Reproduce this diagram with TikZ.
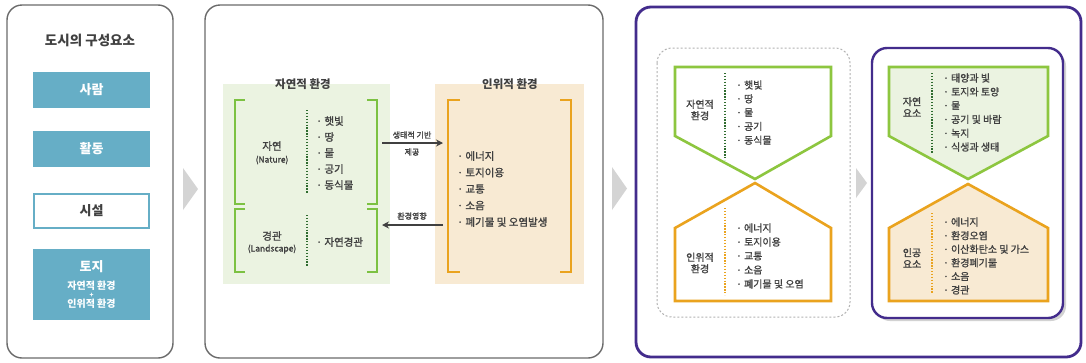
\documentclass[tikz,border=0pt]{standalone}
\usepackage{fontspec}
\setmainfont{Noto Sans CJK KR}
\newfontfamily\medf{Noto Sans CJK KR}[FakeBold=1.2]
\usetikzlibrary{arrows.meta}
\definecolor{teal1}{HTML}{66AEC6}
\definecolor{brgreen}{HTML}{7CC142}
\definecolor{pgreen}{HTML}{8DC63F}
\definecolor{dgreen}{HTML}{2E6B2E}
\definecolor{orng}{HTML}{EAA31E}
\definecolor{greenbg}{HTML}{EBF3E1}
\definecolor{beige}{HTML}{F8EAD3}
\definecolor{purp}{HTML}{432C8C}
\definecolor{txt}{HTML}{404040}
\definecolor{frame}{HTML}{6A6A6A}
\definecolor{tri}{HTML}{D4D4D4}
\tikzset{
  panel/.style={draw=frame, line width=1.4pt, rounded corners=15pt},
  tealbox/.style={fill=teal1, minimum width=117pt, minimum height=36pt, inner sep=0pt, text=white, font=\bfseries\fontsize{13}{15}\selectfont},
  bigitem/.style={anchor=west, inner sep=0pt, text=txt, font=\medf\fontsize{10.5}{12}\selectfont},
  smitem/.style={anchor=west, inner sep=0pt, text=txt, font=\medf\fontsize{10}{11}\selectfont},
  lbl/.style={inner sep=0pt, text=txt, align=center, font=\medf\fontsize{10.5}{12}\selectfont},
  slbl/.style={inner sep=0pt, text=txt, align=center, font=\medf\fontsize{10}{11.5}\selectfont},
  title/.style={inner sep=0pt, text=txt, font=\bfseries\fontsize{11.5}{13}\selectfont},
  gbr/.style={draw=brgreen, line width=2.8pt},
  obr/.style={draw=orng, line width=2.8pt},
  gdot/.style={draw=dgreen, line width=1.3pt, dash pattern=on 1.3pt off 1.6pt},
  odot/.style={draw=orng, line width=1.3pt, dash pattern=on 1.3pt off 1.6pt},
  arr/.style={draw=txt, line width=1.4pt, -{Stealth[length=7pt,width=7pt]}},
  alab/.style={inner sep=0pt, text=txt, align=center, font=\medf\fontsize{8}{10}\selectfont},
  grtri/.style={fill=tri, draw=none},
}
\begin{document}
\begin{tikzpicture}[x=1pt,y=-1pt]
\useasboundingbox[fill=white] (0,0) rectangle (1086,362);

% ---------- Panel 1 ----------
\draw[panel, fill=white] (7,5) rectangle (173,358);
\node[inner sep=0pt, text=txt, font=\bfseries\fontsize{13.5}{15}\selectfont] (t1) at (90,40) {도시의 구성요소};
\node[tealbox] (saram) at (91.5,90) {사람};
\node[tealbox] (hwal) at (91.5,149) {활동};
\node[tealbox, fill=white, draw=teal1, line width=2pt, text=txt, minimum width=115pt, minimum height=34pt] (siseol) at (91.5,211) {시설};
\node[tealbox, minimum height=71pt] (toji) at (91.5,284.5) {};
\node[inner sep=0pt, text=white, font=\bfseries\fontsize{13}{15}\selectfont] (tojit) at (91.5,267) {토지};
\node[inner sep=0pt, text=white, font=\bfseries\fontsize{10}{11}\selectfont] (tojis1) at (91.5,286) {자연적 환경};
\node[inner sep=0pt, text=white, font=\bfseries\fontsize{6.5}{7}\selectfont] (tojip) at (91.5,295) {+};
\node[inner sep=0pt, text=white, font=\bfseries\fontsize{10}{11}\selectfont] (tojis2) at (91.5,304) {인위적 환경};

% triangle 1
\path[grtri] (183,168) -- (198,189) -- (183,210) -- cycle;

% ---------- Panel 2 ----------
\draw[panel, fill=white] (205,5) rectangle (603,358);
\node[fill=greenbg, minimum width=167pt, minimum height=200pt, inner sep=0pt, anchor=north west] (natbg) at (223,84) {};
\node[fill=beige, minimum width=149pt, minimum height=200pt, inner sep=0pt, anchor=north west] (artbg) at (435,84) {};
\node[title] (natt) at (303,84) {자연적 환경};
\node[title] (artt) at (510,84) {인위적 환경};

\draw[gbr] (245,100) -| (235,204) -- (245,204);
\draw[gbr] (367,100) -| (377,204) -- (367,204);
\draw[gbr] (245,209) -| (235,272) -- (245,272);
\draw[gbr] (367,209) -| (377,272) -- (367,272);
\draw[gdot] (307,110) -- (307,193);
\draw[gdot] (307,215) -- (307,266);

\node[lbl] (jayeon) at (272,146) {자연};
\node[slbl, font=\medf\fontsize{8.5}{10}\selectfont] (nature) at (272,160) {(Nature)};
\node[lbl] (gyeong) at (272,236) {경관};
\node[slbl, font=\medf\fontsize{8.5}{10}\selectfont] (landsc) at (272,249) {(Landscape)};

\foreach \t [count=\i] in {햇빛,땅,물,공기,동식물}
  \node[bigitem] (na\i) at (316,{121+16*(\i-1)}) {·\ \t};
\node[bigitem] (nl1) at (316,242) {·\ 자연경관};

\draw[obr] (460,100) -| (448,272) -- (460,272);
\draw[obr] (560,100) -| (571,272) -- (560,272);
\foreach \t [count=\i] in {에너지,토지이용,교통,소음,폐기물 및 오염발생}
  \node[bigitem] (ar\i) at (457,{156+16.5*(\i-1)}) {·\ \t};

\coordinate (a1s) at (382,143);
\coordinate (a1e) at (443,143);
\coordinate (a2s) at (443,225);
\coordinate (a2e) at (382,225);
\draw[arr] (a1s) -- (a1e);
\draw[arr] (a2s) -- (a2e);
\node[alab] (l1) at (412,135) {생태적 기반};
\node[alab] (l2) at (412,152) {제공};
\node[alab] (l3) at (412,216) {환경영향};

% triangle 2
\path[grtri] (612,167) -- (627,188.5) -- (612,210) -- cycle;

% ---------- Panel 3 ----------
\draw[draw=purp, line width=2.8pt, rounded corners=15pt, fill=white] (636,7) rectangle (1081,357);
\draw[draw=gray!60, line width=1pt, dash pattern=on 2pt off 2pt, rounded corners=15pt] (657,48) rectangle (850,317);

\draw[draw=pgreen, line width=2.6pt, fill=white, line join=miter] (675,67) -- (831,67) -- (831,136) -- (755,179) -- (675,136) -- cycle;
\draw[draw=orng, line width=2.6pt, fill=white, line join=miter] (755,183) -- (831,228) -- (831,301) -- (675,301) -- (675,228) -- cycle;
\node[slbl] (n3a) at (700,110) {자연적\\환경};
\node[slbl] (n3b) at (700,263) {인위적\\환경};
\draw[gdot] (725,73) -- (725,160);
\draw[odot] (725,208) -- (725,295);
\foreach \t [count=\i] in {햇빛,땅,물,공기,동식물}
  \node[smitem] (p3n\i) at (736,{85+13.8*(\i-1)}) {·\ \t};
\foreach \t [count=\i] in {에너지,토지이용,교통,소음,폐기물 및 오염}
  \node[smitem] (p3a\i) at (736,{228+14*(\i-1)}) {·\ \t};

% triangle 3
\path[grtri] (856,168) -- (867,183) -- (856,198) -- cycle;

\fill[gray!35, rounded corners=15pt] (875,51) rectangle (1066,321);
\draw[draw=purp, line width=2.4pt, rounded corners=15pt, fill=white] (872,48) rectangle (1063,318);
\draw[draw=pgreen, line width=2.6pt, fill=greenbg, line join=miter] (889,67) -- (1048,67) -- (1048,136) -- (968,179) -- (889,136) -- cycle;
\draw[draw=orng, line width=2.6pt, fill=beige, line join=miter] (968,184) -- (1048,228) -- (1048,301) -- (889,301) -- (889,228) -- cycle;
\node[slbl] (n4a) at (912,107) {자연\\요소};
\node[slbl] (n4b) at (912,258) {인공\\요소};
\draw[gdot] (932,73) -- (932,153);
\draw[odot] (932,213) -- (932,294);
\foreach \t [count=\i] in {태양과 빛,토지와 토양,물,공기 및 바람,녹지,식생과 생태}
  \node[smitem] (p4n\i) at (943,{78+13.8*(\i-1)}) {·\ \t};
\foreach \t [count=\i] in {에너지,환경오염,이산화탄소 및 가스,환경폐기물,소음,경관}
  \node[smitem] (p4a\i) at (943,{222+13.6*(\i-1)}) {·\ \t};
\end{tikzpicture}
\end{document}
